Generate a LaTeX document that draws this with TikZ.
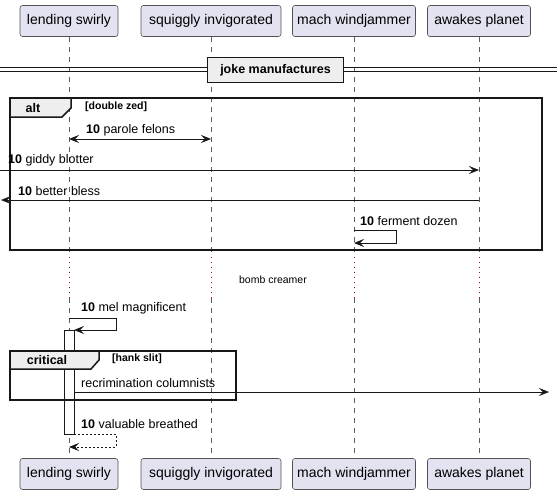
\documentclass[tikz,border=0pt]{standalone}
\usepackage{fontspec}
\setmainfont{Liberation Sans}
\usetikzlibrary{arrows.meta}
\definecolor{partfill}{HTML}{E2E2F0}
\definecolor{partline}{HTML}{181818}
\definecolor{tabfill}{HTML}{EEEEEE}
\definecolor{delaycol}{HTML}{A80036}
\tikzset{
  participant/.style={draw=partline!75, fill=partfill, line width=0.6pt, rounded corners=2.5pt,
    minimum height=31pt, inner sep=0pt, font=\fontsize{14}{16}\selectfont},
  lifeline/.style={draw=partline!70, line width=0.6pt, dash pattern=on 5pt off 5pt},
  delayline/.style={draw=delaycol, line width=1pt, dash pattern=on 1pt off 4pt},
  frameline/.style={draw=partline, line width=1.5pt},
  tab/.style={draw=partline, fill=tabfill, line width=1.5pt},
  tip/.tip={Stealth[length=10pt,width=8pt,inset=4pt]},
  msg/.style={draw=partline, line width=1pt},
  ret/.style={draw=partline, line width=1pt, dash pattern=on 2pt off 2pt},
  lbl/.style={anchor=west, inner sep=0pt, font=\fontsize{12.5}{14}\selectfont},
  flabel/.style={inner sep=0pt, font=\bfseries\fontsize{12.5}{14}\selectfont},
  guard/.style={anchor=west, inner sep=0pt, font=\bfseries\fontsize{10.5}{12}\selectfont},
  actbox/.style={draw=partline, fill=white, line width=1pt}
}
\begin{document}
\begin{tikzpicture}[x=1pt,y=-1pt]
\useasboundingbox (0,0) rectangle (557,495);

% participants
\node[participant, minimum width=98pt]  (lsT) at (69,21)  {lending swirly};
\node[participant, minimum width=140pt] (siT) at (211,21) {squiggly invigorated};
\node[participant, minimum width=123pt] (mwT) at (354,21) {mach windjammer};
\node[participant, minimum width=103pt] (apT) at (479,21) {awakes planet};
\node[participant, minimum width=98pt]  (lsB) at (69,474)  {lending swirly};
\node[participant, minimum width=140pt] (siB) at (211,474) {squiggly invigorated};
\node[participant, minimum width=123pt] (mwB) at (354,474) {mach windjammer};
\node[participant, minimum width=103pt] (apB) at (479,474) {awakes planet};

% lifelines with delay
\foreach \p/\x in {ls/69, si/211, mw/354, ap/479} {
  \coordinate (\p d1) at (\x,257);
  \coordinate (\p d2) at (\x,298);
  \draw[lifeline] (\p T.south) -- (\p d1);
  \draw[delayline] (\p d1) -- (\p d2);
  \draw[lifeline] (\p d2) -- (\p B.north);
}

% divider
\draw[partline, line width=1pt] (0,67.5) -- (557,67.5);
\draw[partline, line width=1pt] (0,71.5) -- (557,71.5);
\node[draw=partline, fill=tabfill, line width=1.5pt, minimum width=136pt, minimum height=25pt,
  inner sep=0pt, font=\bfseries\fontsize{12.5}{14}\selectfont] (div) at (275.5,70) {joke manufactures};

% alt frame
\draw[frameline] (10,98) rectangle (542,250);
\draw[tab] (10,98) -- (71,98) -- (71,108) -- (62,117) -- (10,117) -- cycle;
\node[flabel] (altl) at (33,108) {alt};
\node[guard] (altg) at (85,107) {[double zed]};

% parole felons
\coordinate (pf1) at (69,139);
\coordinate (pf2) at (211,139);
\draw[msg, {tip}-{tip}] (pf1) -- (pf2);
\node[lbl] (pfl) at (86,130) {\textbf{10} parole felons};

% giddy blotter
\coordinate (gb1) at (0,170);
\coordinate (gb2) at (479,170);
\draw[msg, -{tip}] (gb1) -- (gb2);
\node[lbl] (gbl) at (8,160) {\textbf{10} giddy blotter};

% better bless
\coordinate (bb1) at (479,200);
\coordinate (bb2) at (1,200);
\draw[msg, -{tip}] (bb1) -- (bb2);
\node[lbl] (bbl) at (18,191) {\textbf{10} better bless};

% ferment dozen
\coordinate (fd1) at (354,230);
\coordinate (fd2) at (396,230);
\coordinate (fd3) at (396,243);
\coordinate (fd4) at (354,243);
\draw[msg, -{tip}] (fd1) -- (fd2) -- (fd3) -- (fd4);
\node[lbl] (fdl) at (360,221) {\textbf{10} ferment dozen};

% delay text
\node[inner sep=0pt, font=\fontsize{10.5}{12}\selectfont] (bc) at (273,280) {bomb creamer};

% activation
\draw[actbox] (64,330) rectangle (74,434);

% mel magnificent
\coordinate (mm1) at (69,318);
\coordinate (mm2) at (116,318);
\coordinate (mm3) at (116,330);
\coordinate (mm4) at (74,330);
\draw[msg, -{tip}] (mm1) -- (mm2) -- (mm3) -- (mm4);
\node[lbl] (mml) at (81,308) {\textbf{10} mel magnificent};

% critical frame
\draw[frameline] (10,351) rectangle (236,400);
\draw[tab] (10,351) -- (99,351) -- (99,360) -- (91,369) -- (10,369) -- cycle;
\node[flabel] (crl) at (47,360) {critical};
\node[guard] (crg) at (112,359) {[hank slit]};

% recrimination columnists
\coordinate (rc1) at (74,392);
\coordinate (rc2) at (549,392);
\draw[msg, -{tip}] (rc1) -- (rc2);
\node[lbl] (rcl) at (81,383) {recrimination columnists};

% valuable breathed
\coordinate (vb1) at (74,434);
\coordinate (vb2) at (116,434);
\coordinate (vb3) at (116,447);
\coordinate (vb4) at (69,447);
\draw[ret, -{tip[sep=0pt]}] (vb1) -- (vb2) -- (vb3) -- (vb4);
\node[lbl] (vbl) at (81,424) {\textbf{10} valuable breathed};
\end{tikzpicture}
\end{document}
